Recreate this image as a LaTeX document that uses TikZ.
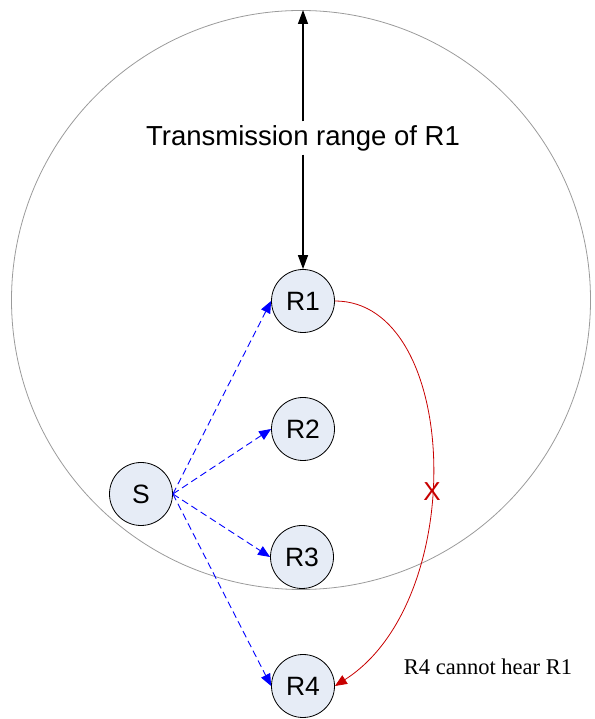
\documentclass[tikz,border=0pt]{standalone}
\usepackage{fontspec}
\setmainfont{Liberation Sans}
\newfontfamily\notefont{Liberation Serif}
\usetikzlibrary{arrows.meta}

\definecolor{nodefill}{RGB}{230,236,246}
\definecolor{rangegray}{RGB}{155,155,155}
\definecolor{linkred}{RGB}{200,0,0}

\begin{document}
\begin{tikzpicture}[x=1pt,y=1pt,
    relay/.style={circle,draw,line width=0.8pt,fill=nodefill,minimum size=63pt,inner sep=0pt,font=\fontsize{26.5}{30}\selectfont},
    hop/.style={blue,line width=0.9pt,dash pattern=on 7pt off 4pt,-{Triangle[length=12pt,width=10pt]}},
    rangearrow/.style={black,line width=1.4pt,-{Triangle[length=14pt,width=10pt]}}]

    % white page
    \useasboundingbox (0,0) rectangle (594,719);

    % transmission range of R1
    \draw[rangegray,line width=0.8pt] (301,419) circle (289.5);

    % nodes
    \node[relay] (R1) at (303,418) {R1};
    \node[relay] (R2) at (303,290) {R2};
    \node[relay] (R3) at (302,162) {R3};
    \node[relay] (R4) at (303,33) {R4};
    \node[relay] (S) at (141,225) {S};

    % range arrow with its label
    \coordinate (top) at (303,709);
    \node[inner sep=3.5pt,font=\fontsize{27.5}{32}\selectfont] (lbl) at (303,581) {Transmission range of R1};
    \draw[rangearrow] (lbl) -- (top);
    \draw[rangearrow] (lbl) -- (R1);

    % S sends to the relays
    \foreach \r in {R1,R2,R3,R4}
        \draw[hop] (S.east) -- (\r.west);

    % R1 does not reach R4
    \draw[linkred,line width=0.8pt,-{Triangle[length=12pt,width=10pt]}]
        (R1.east) .. controls (460,418) and (470,119) .. (R4.east);
    \node[linkred,font=\fontsize{26}{30}\selectfont] (cross) at (432,227) {X};
    \node[font=\notefont\fontsize{22.5}{27}\selectfont] (note) at (488,52) {R4 cannot hear R1};

\end{tikzpicture}
\end{document}
